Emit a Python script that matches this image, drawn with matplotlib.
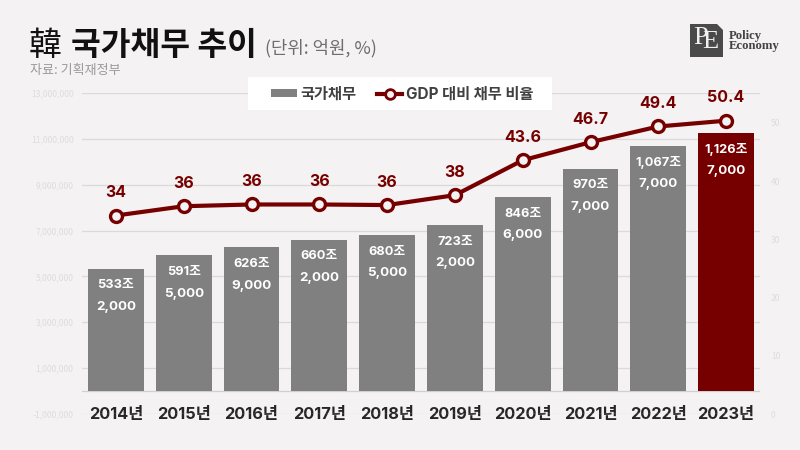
import matplotlib
matplotlib.use("Agg")
import matplotlib.pyplot as plt
from matplotlib.patches import Rectangle, Polygon
from matplotlib.lines import Line2D

years = ["2014년", "2015년", "2016년", "2017년", "2018년", "2019년", "2020년", "2021년", "2022년", "2023년"]
debt = [5332000, 5915000, 6269000, 6602000, 6805000, 7232000, 8466000, 9707000, 10677000, 11267000]
debt_top = ["533조", "591조", "626조", "660조", "680조", "723조", "846조", "970조", "1,067조", "1,126조"]
debt_bottom = ["2,000", "5,000", "9,000", "2,000", "5,000", "2,000", "6,000", "7,000", "7,000", "7,000"]
ratio = [34.1, 35.7, 36.0, 36.0, 35.9, 37.6, 43.6, 46.7, 49.4, 50.4]
ratio_labels = ["34", "36", "36", "36", "36", "38", "43.6", "46.7", "49.4", "50.4"]
left_ticks = [-1000000, 1000000, 3000000, 5000000, 7000000, 9000000, 11000000, 13000000]
right_ticks = [0, 10, 20, 30, 40, 50]

BG = "#f4f2f3"
RED = "#760000"
GRAY = "#808080"
KR = ["Inter", "Noto Sans CJK KR", "DejaVu Sans"]
CJK = ["Noto Sans CJK KR", "DejaVu Sans"]
plt.rcParams["font.family"] = CJK

W, H = 800, 450
fig = plt.figure(figsize=(8, 4.5), dpi=100, facecolor=BG)
ax = fig.add_axes([82 / W, 1 - 414 / H, (760 - 82) / W, (414 - 93) / H])
ax.set_facecolor("none")
ax.set_xlim(-0.5, 9.5)
ax.set_ylim(-1000000, 13000000)
for s in ax.spines.values():
    s.set_visible(False)
ax.set_yticks(left_ticks)
ax.set_yticklabels([f"{v:,}" for v in left_ticks], fontsize=6.2, color="#dedcdd")
ax.tick_params(axis="y", length=0, pad=6)
ax.grid(axis="y", color="#dadada", lw=0.9)
ax.set_axisbelow(True)
ax.axhline(0, color="#d0d0d0", lw=0.9, zorder=1)

x = list(range(len(years)))
colors = [GRAY] * 9 + [RED]
ax.bar(x, debt, width=0.825, color=colors, zorder=2)
for i, (top, bot, v) in enumerate(zip(debt_top, debt_bottom, debt)):
    ax.annotate(top, (i, v), xytext=(0, -12), textcoords="offset points", ha="center", va="center",
                color="white", fontsize=9.2, fontweight="bold", family=KR, zorder=3)
    ax.annotate(bot, (i, v), xytext=(0, -27.5), textcoords="offset points", ha="center", va="center",
                color="white", fontsize=9.6, fontweight="bold", family=KR, zorder=3)

ax.set_xticks(x)
ax.set_xticklabels(years, fontsize=11.8, fontweight="bold", color="#262626", family=KR)
ax.tick_params(axis="x", length=0, pad=0)
for lab in ax.get_xticklabels():
    lab.set_va("center")

ax2 = ax.twinx()
ax2.set_facecolor("none")
ax2.set_ylim(0, 321 / 5.82)
for s in ax2.spines.values():
    s.set_visible(False)
ax2.set_yticks(right_ticks)
ax2.set_yticklabels([str(v) for v in right_ticks], fontsize=6.2, color="#dedcdd")
ax2.tick_params(axis="y", length=0, pad=8)
ax2.plot(x, ratio, color=RED, lw=3.0, marker="o", ms=8.6, mfc=BG, mec=RED, mew=2.4, zorder=5)
for i, (v, lab) in enumerate(zip(ratio, ratio_labels)):
    ax2.annotate(lab, (i, v), xytext=(0, 16.4), textcoords="offset points", ha="center", va="center",
                 color=RED, fontsize=11.5, fontweight="bold", family=KR, zorder=6)

# legend: a white band with the entries laid over it
ax2.add_patch(Rectangle((248 / W, 1 - 110 / H), 304 / W, 33 / H, transform=fig.transFigure,
                        fc="white", ec="none", zorder=9, clip_on=False))
handles = [
    Rectangle((0, 0), 1, 1, fc=GRAY, ec="none"),
    Line2D([], [], color=RED, lw=3.0, marker="o", ms=7, mfc=BG, mec=RED, mew=2.0),
]
leg = ax2.legend(handles, ["국가채무", "GDP 대비 채무 비율"], loc="center", ncol=2,
                 bbox_to_anchor=(402.5 / W, 1 - 94 / H), bbox_transform=fig.transFigure,
                 frameon=False, prop={"family": KR, "weight": "bold", "size": 11}, labelcolor="#404040",
                 handlelength=1.65, handleheight=0.5, handletextpad=0.25, columnspacing=1.35,
                 borderpad=0, borderaxespad=0)
leg.set_zorder(10)

# header
fig.text(29 / W, 1 - 55 / H, "韓", fontsize=23.5, color="#111111", va="baseline", family=CJK)
fig.text(71 / W, 1 - 55 / H, "국가채무 추이", fontsize=23.3, fontweight="bold", color="#111111", va="baseline", family=CJK)
fig.text(265 / W, 1 - 53 / H, "(단위: 억원, %)", fontsize=12.8, color="#6e6e6e", va="baseline", family=CJK)
fig.text(30 / W, 1 - 74 / H, "자료: 기획재정부", fontsize=9.4, color="#9a9a9a", va="baseline", family=CJK)

# logo
fig.add_artist(Rectangle((690 / W, 1 - 57 / H), 33 / W, 33 / H, transform=fig.transFigure, fc="#4a4a4a", ec="none"))
fig.add_artist(Polygon([(717 / W, 1 - 24 / H), (723 / W, 1 - 24 / H), (723 / W, 1 - 30 / H)],
                       closed=True, transform=fig.transFigure, fc=BG, ec="none"))
fig.text(701 / W, 1 - 38 / H, "P", fontsize=19, color="#f0f0f0", ha="center", va="center", family="Liberation Serif")
fig.text(710.5 / W, 1 - 42 / H, "E", fontsize=19, color="#f0f0f0", ha="center", va="center", family="Liberation Serif")
fig.text(728.5 / W, 1 - 35.5 / H, "Policy", fontsize=9.2, fontweight="bold", color="#444444", va="center", family="Liberation Serif")
fig.text(728.5 / W, 1 - 46.5 / H, "Economy", fontsize=9.2, fontweight="bold", color="#444444", va="center", family="Liberation Serif")

fig.savefig("out.png", dpi=100, facecolor=BG)
